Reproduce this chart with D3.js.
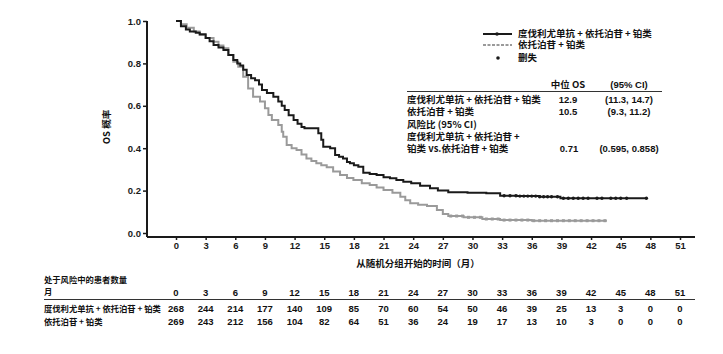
<!DOCTYPE html>
<html><head><meta charset="utf-8">
<script src="https://cdn.jsdelivr.net/npm/d3@7/dist/d3.min.js"></script>
<style>
body{margin:0;background:#fff;}
svg{font-family:"Liberation Sans","Noto Sans CJK SC",sans-serif;font-weight:bold;}
.cn{font-family:"Noto Sans CJK SC","Liberation Sans",sans-serif;font-weight:bold;}
</style></head>
<body><svg id="c" width="723" height="354"></svg>
<script>
// ---- data ----
const arm1Name = "度伐利尤单抗 + 依托泊苷 + 铂类";
const arm2Name = "依托泊苷 + 铂类";
const censorName = "删失";
const arm1Times = [0,0.5,1.0,1.4,2.0,2.4,3.0,3.4,3.8,4.3,4.8,5.3,5.8,6.2,6.5,6.8,7.15,7.6,8.0,8.4,8.7,9.2,9.85,10.35,10.7,11.0,11.4,11.9,12.3,12.7,13.0,13.9,14.4,14.7,14.9,15.6,16.1,16.5,16.9,17.3,17.6,18.0,18.45,18.95,19.6,20.3,21.0,21.65,22.3,23.0,23.8,24.7,25.7,26.5,27.55,29.5,31.4,32.8,34.5,36.8,38.9,47.6];
const arm1Surv  = [1.0,0.975,0.96,0.95,0.945,0.937,0.92,0.905,0.887,0.875,0.863,0.84,0.816,0.80,0.79,0.77,0.745,0.73,0.72,0.70,0.675,0.66,0.643,0.62,0.60,0.58,0.556,0.533,0.515,0.50,0.494,0.494,0.47,0.44,0.407,0.40,0.368,0.36,0.352,0.335,0.329,0.32,0.313,0.284,0.278,0.274,0.263,0.258,0.25,0.242,0.235,0.223,0.211,0.20,0.192,0.19,0.187,0.176,0.174,0.171,0.164,0.164];
const arm2Times = [0,0.5,1.08,1.8,2.4,3.0,3.8,4.3,4.8,5.3,5.8,6.3,6.8,7.3,7.8,8.5,9.0,9.35,9.7,10.35,10.7,10.85,11.2,11.7,12.2,12.7,13.2,13.7,14.2,14.7,15.25,15.9,16.6,17.3,17.95,18.8,19.6,20.3,21.0,21.9,22.7,23.2,23.7,24.5,25.4,26.4,27.0,27.55,29.1,31.0,32.8,36.0,43.6];
const arm2Surv  = [1.0,0.985,0.968,0.95,0.934,0.92,0.902,0.885,0.871,0.84,0.808,0.784,0.737,0.682,0.643,0.62,0.588,0.557,0.533,0.509,0.478,0.454,0.415,0.40,0.392,0.37,0.352,0.34,0.329,0.32,0.31,0.29,0.274,0.26,0.25,0.235,0.226,0.215,0.203,0.19,0.171,0.155,0.14,0.133,0.127,0.108,0.09,0.08,0.074,0.066,0.061,0.058,0.058];
const arm1Censor = [33.2,33.8,34.4,34.8,35.2,35.6,36.0,36.4,36.8,37.2,37.6,38.0,38.6,39.2,39.7,40.2,40.7,41.2,41.7,42.6,43.1,44.0,44.5,45.0,45.6,47.6];
const arm2Censor = [27.8,28.4,29.0,29.6,30.2,30.8,31.4,32.0,32.6,33.2,33.8,34.4,35.0,35.6,36.2,36.8,37.4,38.0,38.6,39.2,39.8,40.4,41.0,41.6,42.2,42.8,43.4];
const xTicks = [0,3,6,9,12,15,18,21,24,27,30,33,36,39,42,45,48,51];
const yTicks = [0,0.2,0.4,0.6,0.8,1.0];
const risk1 = [268,244,214,177,140,109,85,70,60,54,50,46,39,25,13,3,0,0];
const risk2 = [269,243,212,156,104,82,64,51,36,24,19,17,13,10,3,0,0,0];
const medianRows = [
  {label:arm1Name, med:"12.9", ci:"(11.3, 14.7)"},
  {label:arm2Name, med:"10.5", ci:"(9.3, 11.2)"}
];
const hrLabel = "风险比 (95% CI)";
const hrRowLines = ["度伐利尤单抗 + 依托泊苷 +", "铂类 vs.依托泊苷 + 铂类"];
const hrValue = "0.71", hrCI = "(0.595, 0.858)";

// ---- chart ----
const svg = d3.select("#c");
const x = d3.scaleLinear().domain([0,51]).range([176,680]);
const y = d3.scaleLinear().domain([0,1]).range([233,21]);
const black = "#1a1a1a", gray = "#9a9a9a";
const fs = 9.5;

// axes
const yAxis = svg.append("g").attr("transform","translate(147,0)")
  .call(d3.axisLeft(y).tickValues(yTicks).tickFormat(d3.format(".1f")).tickSize(4).tickSizeOuter(0));
yAxis.select(".domain").attr("d","M0,21V237").attr("stroke",black).attr("stroke-width",2);
const xAxis = svg.append("g").attr("transform","translate(0,237)")
  .call(d3.axisBottom(x).tickValues(xTicks).tickSize(3).tickSizeOuter(0));
xAxis.select(".domain").attr("d","M147,0H695").attr("stroke",black).attr("stroke-width",2);
[yAxis,xAxis].forEach(g=>{
  g.selectAll(".tick line").attr("stroke",black).attr("stroke-width",1.5);
  g.selectAll(".tick text").attr("fill","#1a1a1a").attr("font-size",fs)
   .attr("font-family","Liberation Sans, sans-serif").attr("font-weight","bold");
});
yAxis.selectAll(".tick text").attr("x",-6);
xAxis.selectAll(".tick text").attr("y",5);

svg.append("text").attr("class","cn").attr("transform","translate(107,127) rotate(-90)")
  .attr("text-anchor","middle").attr("dominant-baseline","middle").attr("font-size",fs).attr("fill","#111")
  .text("OS 概率");
svg.append("text").attr("class","cn").attr("x",418).attr("y",264)
  .attr("text-anchor","middle").attr("dominant-baseline","middle").attr("font-size",fs).attr("fill","#111")
  .text("从随机分组开始的时间（月）");

// curves
const line = d3.line().x(d=>x(d[0])).y(d=>y(d[1])).curve(d3.curveStepAfter);
const d1 = arm1Times.map((t,i)=>[t,arm1Surv[i]]);
const d2 = arm2Times.map((t,i)=>[t,arm2Surv[i]]);
svg.append("path").attr("d",line(d2)).attr("fill","none").attr("stroke",gray).attr("stroke-width",2);
svg.append("path").attr("d",line(d1)).attr("fill","none").attr("stroke",black).attr("stroke-width",2);
function survAt(times,surv,t){let v=surv[0];for(let i=0;i<times.length;i++){if(times[i]<=t)v=surv[i];}return v;}
svg.append("g").selectAll("rect").data(arm2Censor).join("rect")
  .attr("x",d=>x(d)-1.5).attr("y",d=>y(survAt(arm2Times,arm2Surv,d))-1.5)
  .attr("width",3).attr("height",3).attr("fill",gray);
svg.append("g").selectAll("circle").data(arm1Censor).join("circle")
  .attr("cx",d=>x(d)).attr("cy",d=>y(survAt(arm1Times,arm1Surv,d)))
  .attr("r",1.7).attr("fill",black);

// legend
const lg = svg.append("g");
lg.append("line").attr("x1",483).attr("x2",512).attr("y1",34).attr("y2",34).attr("stroke",black).attr("stroke-width",2);
lg.append("circle").attr("cx",497).attr("cy",34).attr("r",1.8).attr("fill",black);
lg.append("line").attr("x1",483).attr("x2",512).attr("y1",45).attr("y2",45).attr("stroke",gray).attr("stroke-width",2).attr("stroke-dasharray","3,1.5");
lg.append("circle").attr("cx",498).attr("cy",58).attr("r",1.8).attr("fill",black);
[[arm1Name,34],[arm2Name,45.5],[censorName,58]].forEach(([t,yy])=>{
  lg.append("text").attr("class","cn").attr("x",518).attr("y",yy).attr("dominant-baseline","middle")
    .attr("font-size",fs).attr("fill","#111").text(t);
});

// median table
const tb = svg.append("g").attr("font-size",fs).attr("fill","#111");
tb.append("text").attr("class","cn").attr("x",568).attr("y",85).attr("text-anchor","middle").attr("dominant-baseline","middle").text("中位 OS");
tb.append("text").attr("x",629).attr("y",85).attr("text-anchor","middle").attr("dominant-baseline","middle").text("(95% CI)");
tb.append("line").attr("x1",407).attr("x2",662).attr("y1",91.5).attr("y2",91.5).attr("stroke","#333").attr("stroke-width",1);
medianRows.forEach((r,i)=>{
  const yy = 100 + i*12;
  tb.append("text").attr("class","cn").attr("x",407).attr("y",yy).attr("dominant-baseline","middle").text(r.label);
  tb.append("text").attr("x",568).attr("y",yy).attr("text-anchor","middle").attr("dominant-baseline","middle").text(r.med);
  tb.append("text").attr("x",629).attr("y",yy).attr("text-anchor","middle").attr("dominant-baseline","middle").text(r.ci);
});
tb.append("text").attr("class","cn").attr("x",407).attr("y",125).attr("dominant-baseline","middle").text(hrLabel);
hrRowLines.forEach((t,i)=>{
  tb.append("text").attr("class","cn").attr("x",407).attr("y",137+i*12.5).attr("dominant-baseline","middle").text(t);
});
tb.append("text").attr("x",569).attr("y",149.5).attr("text-anchor","middle").attr("dominant-baseline","middle").text(hrValue);
tb.append("text").attr("x",629).attr("y",149.5).attr("text-anchor","middle").attr("dominant-baseline","middle").text(hrCI);

// risk table
const rs = 8.3;
const rt = svg.append("g").attr("font-size",fs).attr("fill","#111");
rt.append("text").attr("class","cn").attr("font-size",rs).attr("x",44).attr("y",281).attr("dominant-baseline","middle").text("处于风险中的患者数量");
rt.append("text").attr("class","cn").attr("font-size",rs).attr("x",44).attr("y",293).attr("dominant-baseline","middle").text("月");
rt.append("line").attr("x1",44).attr("x2",695).attr("y1",299.5).attr("y2",299.5).attr("stroke","#333").attr("stroke-width",1);
rt.append("text").attr("class","cn").attr("font-size",rs).attr("x",44).attr("y",309.5).attr("dominant-baseline","middle").text(arm1Name);
rt.append("text").attr("class","cn").attr("font-size",rs).attr("x",44).attr("y",322.5).attr("dominant-baseline","middle").text(arm2Name);
[[xTicks,293],[risk1,309.5],[risk2,322.5]].forEach(([arr,yy])=>{
  rt.append("g").selectAll("text").data(arr).join("text")
    .attr("x",(d,i)=>x(xTicks[i])).attr("y",yy).attr("text-anchor","middle").attr("dominant-baseline","middle")
    .text(d=>d);
});
</script></body></html>
